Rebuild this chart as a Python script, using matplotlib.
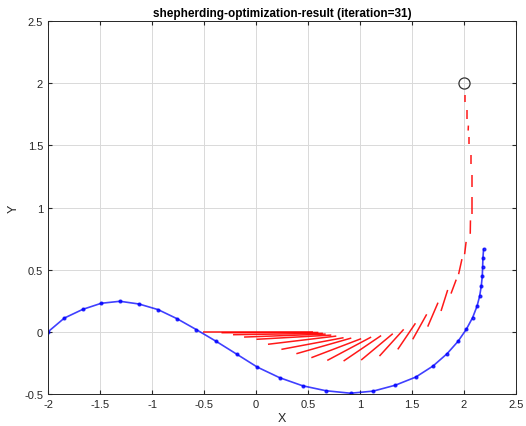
import matplotlib
matplotlib.use("Agg")
import matplotlib.pyplot as plt
import numpy as np

plt.rcParams['font.family'] = ['Liberation Sans', 'DejaVu Sans']

# Blue path (shepherd trajectory)
path_x = [-2.0, -1.843, -1.666, -1.488, -1.308, -1.125, -0.942, -0.76, -0.574, -0.382, -0.183,
          0.013, 0.227, 0.448, 0.672, 0.909, 1.127, 1.341, 1.536, 1.702, 1.837, 1.942, 2.022,
          2.083, 2.125, 2.15, 2.166, 2.176, 2.179, 2.182, 2.188]
path_y = [0.0, 0.111, 0.181, 0.23, 0.246, 0.224, 0.179, 0.106, 0.018, -0.077, -0.181,
          -0.284, -0.369, -0.434, -0.474, -0.494, -0.477, -0.429, -0.364, -0.275, -0.176, -0.077, 0.02,
          0.115, 0.206, 0.286, 0.369, 0.45, 0.523, 0.593, 0.665]

# Red segments (sheep)
seg_x0 = [-0.506, -0.332, -0.221, -0.115, 0.004, 0.115, 0.244, 0.388, 0.532,
          0.685, 0.842, 1.011, 1.187, 1.363, 1.507, 1.651,
          1.779, 1.875, 1.948, 2.006,
          2.060, 2.073, 2.073, 2.067, 2.051, 2.040, 2.025, 2.013]
seg_y0 = [0.0, -0.007, -0.023, -0.042, -0.06, -0.1, -0.141, -0.176, -0.208,
          -0.23, -0.235, -0.227, -0.195, -0.141, -0.06, 0.042,
          0.168, 0.308, 0.464, 0.625,
          0.789, 0.95, 1.165, 1.353, 1.515, 1.62, 1.716, 1.851]
seg_x1 = [0.55, 0.6, 0.643, 0.67, 0.724, 0.772, 0.842, 0.916, 1.011,
          1.107, 1.203, 1.315, 1.42, 1.533, 1.641, 1.75,
          1.843, 1.925, 1.98, 2.02,
          2.062, 2.073, 2.073, 2.067, 2.051, 2.042, 2.025, 2.013]
seg_y1 = [0.0, -0.005, -0.012, -0.018, -0.026, -0.034, -0.047, -0.05, -0.055,
          -0.042, -0.03, -0.015, 0.02, 0.069, 0.141, 0.235,
          0.337, 0.42, 0.585, 0.724,
          0.897, 1.085, 1.26, 1.421, 1.569, 1.66, 1.784, 1.905]

goal_x = [2.0]
goal_y = [2.0]

title = "shepherding-optimization-result (iteration=31)"

fig = plt.figure(figsize=(5.26, 4.27), dpi=100)
ax = fig.add_axes([0.0913, 0.075, 0.8897, 0.873])

for x0, y0, x1, y1 in zip(seg_x0, seg_y0, seg_x1, seg_y1):
    ax.plot([x0, x1], [y0, y1], color='red', lw=1.1, alpha=0.9, solid_capstyle='butt')

ax.plot(path_x, path_y, color='blue', lw=1.2, marker='.', markersize=4, alpha=0.75)
ax.plot(goal_x, goal_y, marker='o', markersize=8, markerfacecolor='none',
        markeredgecolor='#333333', markeredgewidth=0.9, linestyle='none')

ax.set_xlim(-2, 2.5)
ax.set_ylim(-0.5, 2.5)
ax.set_xticks(np.arange(-2, 2.51, 0.5))
ax.set_yticks(np.arange(-0.5, 2.51, 0.5))
ax.set_xticklabels(['-2', '-1.5', '-1', '-0.5', '0', '0.5', '1', '1.5', '2', '2.5'])
ax.set_yticklabels(['-0.5', '0', '0.5', '1', '1.5', '2', '2.5'])
ax.grid(True, color='#d9d9d9', lw=0.7)
ax.set_axisbelow(True)
ax.tick_params(direction='in', labelsize=8, length=3, top=True, right=True,
               colors='#262626', labelcolor='#262626')
for s in ax.spines.values():
    s.set_color('#262626')
    s.set_linewidth(0.7)
ax.set_xlabel('X', fontsize=9, color='#262626', labelpad=2)
ax.set_ylabel('Y', fontsize=9, color='#262626', labelpad=3)
ax.set_title(title, fontsize=8.5, fontweight='bold', pad=4)

fig.savefig('out.png', dpi=100)
